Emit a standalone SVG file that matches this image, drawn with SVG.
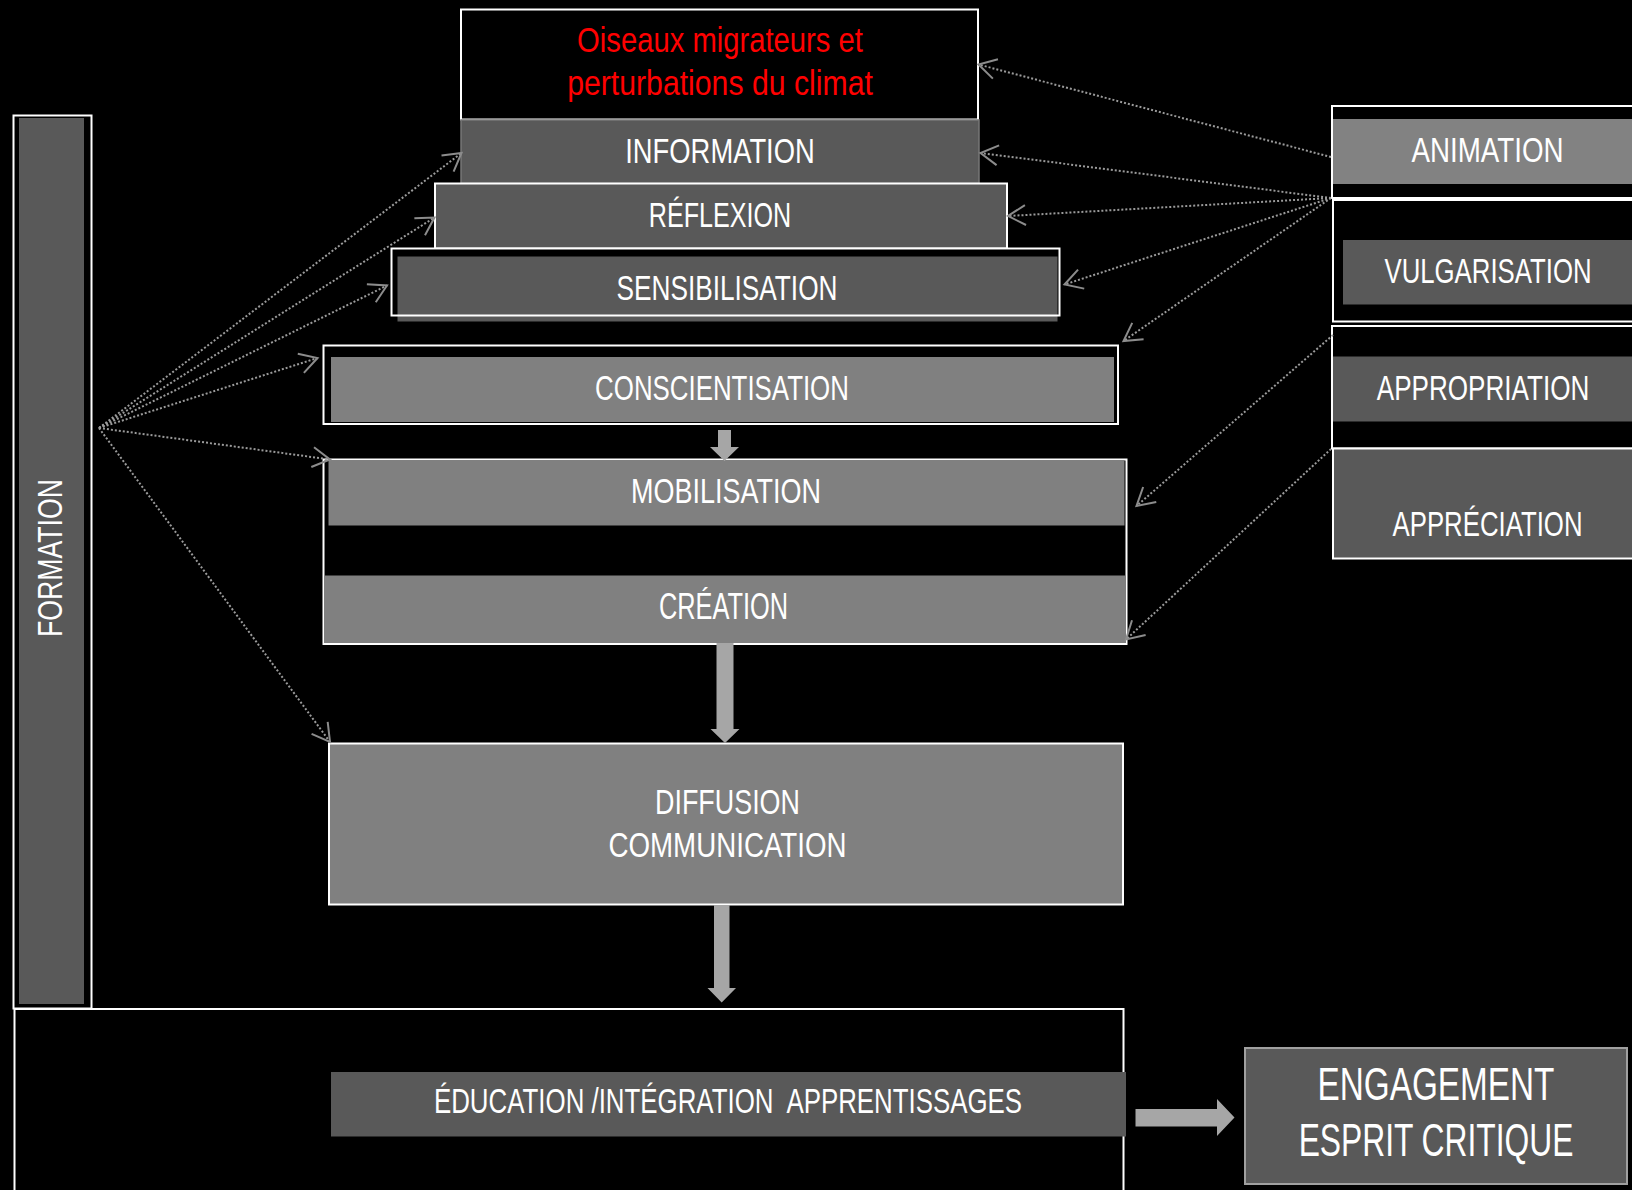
<svg xmlns="http://www.w3.org/2000/svg" width="1632" height="1190" viewBox="0 0 1632 1190">
<style>
.lbl{font-family:"Liberation Sans",Arial,sans-serif;font-size:36px;fill:#ffffff;text-anchor:middle}
.red{fill:#ff0000}
.big{font-size:47px}
.wb{stroke:#ffffff;stroke-width:2}
.dk{fill:#595959}
.md{fill:#808080}
.blk{fill:#000000}
.none{fill:none}
.con{fill:none;stroke:#9a9a9a;stroke-width:2;stroke-dasharray:2 2}
.thick{fill:#a6a6a6}
</style>
<defs>
<marker id="oa" markerUnits="userSpaceOnUse" markerWidth="40" markerHeight="40" viewBox="-30 -20 40 40" refX="0" refY="0" orient="auto">
<path d="M-17.5,-10 L0,0 L-17.5,10" fill="none" stroke="#8c8c8c" stroke-width="2"/>
</marker>
</defs>
<rect x="0" y="0" width="1632" height="1190" fill="#000000"/>

<g id="formation">
<rect x="13.5" y="115.5" width="78" height="893" class="blk wb"/>
<rect x="19" y="118" width="65" height="886" class="dk"/>
<text class="lbl" transform="translate(61.5,558) rotate(-90) scale(0.731,1)" textLength="216" lengthAdjust="spacingAndGlyphs">FORMATION</text>
</g>

<g id="titre">
<rect x="461" y="9.5" width="517" height="110" class="blk wb"/>
<text class="lbl red" transform="translate(720,51.5) scale(0.812,1)" textLength="352" lengthAdjust="spacingAndGlyphs">Oiseaux migrateurs et</text>
<text class="lbl red" transform="translate(720,95) scale(0.84,1)" textLength="364" lengthAdjust="spacingAndGlyphs">perturbations du climat</text>
</g>

<g id="information">
<rect x="461" y="120" width="518" height="63.5" class="dk" stroke="#777777" stroke-width="1.5"/>
<text class="lbl" transform="translate(720,162.5) scale(0.752,1)" textLength="252" lengthAdjust="spacingAndGlyphs">INFORMATION</text>
</g>

<g id="reflexion">
<rect x="435" y="183.5" width="572" height="65" class="dk wb"/>
<text class="lbl" transform="translate(720,226.5) scale(0.698,1)" textLength="204" lengthAdjust="spacingAndGlyphs">RÉFLEXION</text>
</g>

<g id="sensibilisation">
<rect x="391.5" y="248.5" width="668" height="67" class="blk"/>
<rect x="397.5" y="256.5" width="660" height="65" class="dk"/>
<rect x="391.5" y="248.5" width="668" height="67" class="none wb"/>
<text class="lbl" transform="translate(727,300) scale(0.722,1)" textLength="306" lengthAdjust="spacingAndGlyphs">SENSIBILISATION</text>
</g>

<g id="conscientisation">
<rect x="323.5" y="345.5" width="794.5" height="78.5" class="blk wb"/>
<rect x="331" y="357" width="783" height="65" class="md"/>
<text class="lbl" transform="translate(722,400) scale(0.713,1)" textLength="356" lengthAdjust="spacingAndGlyphs">CONSCIENTISATION</text>
</g>

<g id="mobilisation-creation">
<rect x="323.5" y="459.5" width="803" height="184.5" class="blk wb"/>
<rect x="328.5" y="461" width="796" height="64.5" class="md"/>
<rect x="324.5" y="575.5" width="801" height="67.5" class="md"/>
<text class="lbl" transform="translate(726,502.5) scale(0.742,1)" textLength="256" lengthAdjust="spacingAndGlyphs">MOBILISATION</text>
<text class="lbl" transform="translate(723.5,618.5) scale(0.694,1)" textLength="186" lengthAdjust="spacingAndGlyphs">CRÉATION</text>
</g>

<g id="diffusion">
<rect x="329" y="743.5" width="794" height="161" class="md wb"/>
<text class="lbl" transform="translate(727.5,813.5) scale(0.747,1)" textLength="194" lengthAdjust="spacingAndGlyphs">DIFFUSION</text>
<text class="lbl" transform="translate(727.5,857) scale(0.763,1)" textLength="312" lengthAdjust="spacingAndGlyphs">COMMUNICATION</text>
</g>

<g id="education">
<rect x="14.5" y="1009" width="1109" height="200" class="blk wb"/>
<rect x="331" y="1072" width="795" height="64.5" class="dk"/>
<text class="lbl" transform="translate(728,1113) scale(0.712,1)" textLength="826" lengthAdjust="spacingAndGlyphs" xml:space="preserve">ÉDUCATION /INTÉGRATION  APPRENTISSAGES</text>
</g>

<g id="engagement">
<rect x="1245" y="1048" width="382" height="136" class="dk" stroke="#a0a0a0" stroke-width="2"/>
<text class="lbl big" transform="translate(1436,1099.5) scale(0.709,1)" textLength="334" lengthAdjust="spacingAndGlyphs">ENGAGEMENT</text>
<text class="lbl big" transform="translate(1436,1156) scale(0.675,1)" textLength="407" lengthAdjust="spacingAndGlyphs">ESPRIT CRITIQUE</text>
</g>

<g id="animation">
<rect x="1332" y="106" width="310" height="92" class="blk wb"/>
<rect x="1333" y="119" width="300" height="65" fill="#828282"/>
<text class="lbl" transform="translate(1487.5,161.5) scale(0.76,1)" textLength="200" lengthAdjust="spacingAndGlyphs">ANIMATION</text>
</g>

<g id="vulgarisation">
<rect x="1333" y="200" width="310" height="121.5" class="blk wb"/>
<rect x="1343" y="240" width="290" height="64.5" class="dk"/>
<text class="lbl" transform="translate(1488,282.5) scale(0.709,1)" textLength="292" lengthAdjust="spacingAndGlyphs">VULGARISATION</text>
</g>

<g id="appropriation">
<rect x="1332" y="326" width="310" height="122.5" class="blk wb"/>
<rect x="1333" y="356.5" width="300" height="65" class="dk"/>
<text class="lbl" transform="translate(1483,399.5) scale(0.718,1)" textLength="296" lengthAdjust="spacingAndGlyphs">APPROPRIATION</text>
</g>

<g id="appreciation">
<rect x="1333" y="448.5" width="310" height="110" class="dk wb"/>
<text class="lbl" transform="translate(1487.5,536) scale(0.709,1)" textLength="268" lengthAdjust="spacingAndGlyphs">APPRÉCIATION</text>
</g>

<g id="connectors">
<path class="thick" d="M718,430 H731 V447 H739 L724.5,461 L710,447 H718 Z"/>
<path class="thick" d="M716.5,643 H733.5 V729 H739.5 L725,743 L710.5,729 H716.5 Z"/>
<path class="thick" d="M714,905 H729.5 V988 H736 L721.7,1002.5 L707.5,988 H714 Z"/>
<path class="thick" d="M1135.5,1109 H1217 V1099 L1234.5,1117.5 L1217,1136 V1126.5 H1135.5 Z"/>
<line class="con" x1="99" y1="428" x2="461.5" y2="153" marker-end="url(#oa)"/>
<line class="con" x1="99" y1="428" x2="434.5" y2="217.5" marker-end="url(#oa)"/>
<line class="con" x1="99" y1="428" x2="387" y2="285.5" marker-end="url(#oa)"/>
<line class="con" x1="99" y1="428" x2="317.5" y2="358" marker-end="url(#oa)"/>
<line class="con" x1="99" y1="428" x2="330" y2="459.5" marker-end="url(#oa)"/>
<line class="con" x1="99" y1="428" x2="330" y2="742" marker-end="url(#oa)"/>
<line class="con" x1="1331" y1="157" x2="978.5" y2="64.5" marker-end="url(#oa)"/>
<line class="con" x1="1331" y1="198" x2="980.5" y2="153" marker-end="url(#oa)"/>
<line class="con" x1="1331" y1="198" x2="1008" y2="216" marker-end="url(#oa)"/>
<line class="con" x1="1331" y1="198" x2="1064.5" y2="284.5" marker-end="url(#oa)"/>
<line class="con" x1="1331" y1="198" x2="1123.5" y2="341" marker-end="url(#oa)"/>
<line class="con" x1="1333" y1="335" x2="1136.5" y2="506" marker-end="url(#oa)"/>
<line class="con" x1="1331" y1="449" x2="1126" y2="639.5" marker-end="url(#oa)"/>
</g>
</svg>
